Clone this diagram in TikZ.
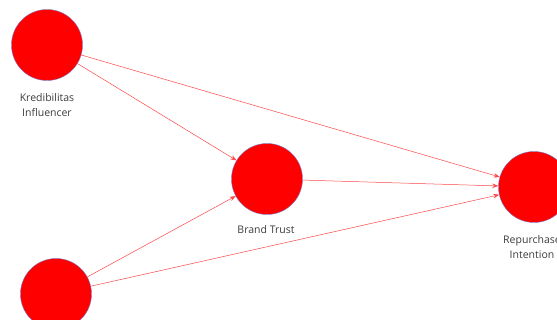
\documentclass[tikz,border=0pt]{standalone}
\usepackage{fontspec}
\setmainfont{Open Sans}
\usetikzlibrary{arrows.meta}
\definecolor{edgecol}{RGB}{255,70,70}
\definecolor{rimcol}{RGB}{120,120,200}
\definecolor{txtcol}{RGB}{60,60,60}
\begin{document}
\begin{tikzpicture}[x=1pt,y=-1pt,
  latent/.style={circle,fill=red,draw=rimcol,line width=0.4pt,minimum size=71pt,inner sep=0pt},
  lbl/.style={text=txtcol,font=\fontsize{10.5}{14.5}\selectfont,align=center},
  path/.style={draw=edgecol,line width=0.5pt,-{Stealth[length=6pt,width=4.5pt]}}]
\path[use as bounding box] (0,0) rectangle (557,320);
\node[latent] (ki) at (47,45) {};
\node[latent] (bt) at (267,179) {};
\node[latent] (ri) at (534,187) {};
\node[latent] (x2) at (56,294) {};
\node[lbl] (kil) at (47,105) {Kredibilitas\\Influencer};
\node[lbl] (btl) at (266,230) {Brand Trust};
\node[lbl] (ril) at (532,247) {Repurchase\\Intention};
\draw[path] (ki) -- (bt);
\draw[path] (ki) -- (ri);
\draw[path] (bt) -- (ri);
\draw[path] (x2) -- (bt);
\draw[path] (x2) -- (ri);
\end{tikzpicture}
\end{document}
